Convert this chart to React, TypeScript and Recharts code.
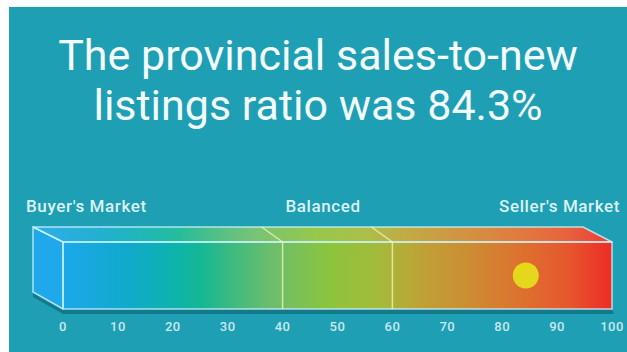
import React from 'react';
import { ComposedChart, XAxis, YAxis, Scatter, ReferenceArea, ReferenceLine } from 'recharts';

// ---- data ----
const titleLines = ['The provincial sales-to-new', 'listings ratio was 84.3%'];
const zoneLabels = ["Buyer's Market", 'Balanced', "Seller's Market"];
const tickValues = [0, 10, 20, 30, 40, 50, 60, 70, 80, 90, 100];
const scaleRange = [0, 100];
const dividerValues = [40, 60];
const ratioValues = [84.3];

const pointData = ratioValues.map((v) => ({ x: v, y: 0.5 }));

// ---- styles ----
const W = 618;
const H = 345;
const BG = '#1e9fb3';
const DX = 30;
const DY = 15;
const EDGE = 'rgba(205,245,255,0.8)';

const frontStops: [number, string][] = [
  [0, '#1ca8ea'],
  [0.12, '#10aacb'],
  [0.2, '#0db3ad'],
  [0.25, '#14b795'],
  [0.32, '#45bb7c'],
  [0.38, '#6cbe6c'],
  [0.49, '#8dc43c'],
  [0.58, '#a6b93a'],
  [0.65, '#bea236'],
  [0.74, '#cd8c33'],
  [0.83, '#dd722f'],
  [0.92, '#e6572d'],
  [1, '#ee2b26'],
];

function BoxShape(props: any) {
  const { x, y, width, height } = props;
  const x0 = x;
  const x1 = x + width;
  const y0 = y;
  const y1 = y + height;
  const left = `${x0 - DX},${y0 - DY} ${x0},${y0} ${x0},${y1} ${x0 - DX},${y1 - DY - 2}`;
  const top = `${x0 - DX},${y0 - DY} ${x1 - DX + 1},${y0 - DY} ${x1},${y0} ${x0},${y0}`;
  const shadow = `${x0 - DX},${y1 - DY - 2} ${x0},${y1} ${x1},${y1} ${x1 + 2},${y1 + 5} ${x0},${y1 + 5} ${x0 - DX},${y1 - DY + 3}`;
  return (
    <g>
      <defs>
        <linearGradient id="frontGrad" x1="0" y1="0" x2="1" y2="0">
          {frontStops.map(([o, c]) => (
            <stop key={o} offset={o} stopColor={c} />
          ))}
        </linearGradient>
      </defs>
      <polygon points={shadow} fill="rgba(0,55,75,0.35)" />
      <polygon points={left} fill="#1fa8ea" />
      <polygon points={top} fill="url(#frontGrad)" />
      <polygon points={top} fill="rgba(255,255,255,0.08)" />
      <rect x={x0} y={y0} width={width} height={height} fill="url(#frontGrad)" />
      <polygon points={left} fill="none" stroke={EDGE} strokeWidth={1.5} strokeLinejoin="round" />
      <polygon points={top} fill="none" stroke={EDGE} strokeWidth={1.5} strokeLinejoin="round" />
      <rect x={x0} y={y0} width={width} height={height} fill="none" stroke={EDGE} strokeWidth={1.5} />
    </g>
  );
}

function DividerShape(props: any) {
  const { x1, y1, y2 } = props;
  const t = Math.min(y1, y2);
  const b = Math.max(y1, y2);
  return (
    <g>
      <line x1={x1} y1={t} x2={x1} y2={b} stroke="rgba(240,250,190,0.75)" strokeWidth={1.5} />
      <line x1={x1} y1={t} x2={x1 - 21} y2={t - DY} stroke="rgba(240,250,190,0.75)" strokeWidth={1.5} />
    </g>
  );
}

function DotShape(props: any) {
  const { cx, cy } = props;
  return <circle cx={cx} cy={cy} r={13} fill="#e5d71b" />;
}

const labelPos = [
  { x: 17, anchor: 'start' },
  { x: 314, anchor: 'middle' },
  { x: 611, anchor: 'end' },
];

export default function App() {
  return (
    <div style={{ position: 'absolute', left: 9, top: 7, width: W, height: H, background: BG, overflow: 'hidden' }}>
      <svg width={W} height={H} style={{ position: 'absolute', left: 0, top: 0 }}>
        {titleLines.map((t, i) => (
          <text
            key={t}
            x={309}
            y={63 + i * 50}
            textAnchor="middle"
            fontFamily="Roboto, sans-serif"
            fontSize={43}
            fill="#f3fbfc"
          >
            {t}
          </text>
        ))}
        {zoneLabels.map((t, i) => (
          <text
            key={t}
            x={labelPos[i].x}
            y={205}
            textAnchor={labelPos[i].anchor as any}
            fontFamily="Roboto, sans-serif"
            fontSize={17}
            fontWeight={500}
            letterSpacing={0.6}
            fill="#dcf2f6"
          >
            {t}
          </text>
        ))}
      </svg>
      <div style={{ position: 'absolute', left: 0, top: 0 }}>
        <ComposedChart width={W} height={H} data={pointData} margin={{ top: 235, right: 15, bottom: 13, left: 54 }}>
          <XAxis
            type="number"
            dataKey="x"
            domain={scaleRange}
            ticks={tickValues}
            interval={0}
            axisLine={false}
            tickLine={false}
            tickSize={0}
            tickMargin={13}
            tick={{ fill: '#c9e8ef', fontSize: 13, fontWeight: 500, fontFamily: 'Roboto, sans-serif', letterSpacing: 0.5 }}
          />
          <YAxis type="number" dataKey="y" domain={[0, 1]} hide />
          <ReferenceArea x1={scaleRange[0]} x2={scaleRange[1]} y1={0} y2={1} shape={BoxShape} ifOverflow="visible" />
          {dividerValues.map((v) => (
            <ReferenceLine key={v} x={v} shape={DividerShape} ifOverflow="visible" />
          ))}
          <Scatter data={pointData} dataKey="y" shape={DotShape} isAnimationActive={false} />
        </ComposedChart>
      </div>
    </div>
  );
}
